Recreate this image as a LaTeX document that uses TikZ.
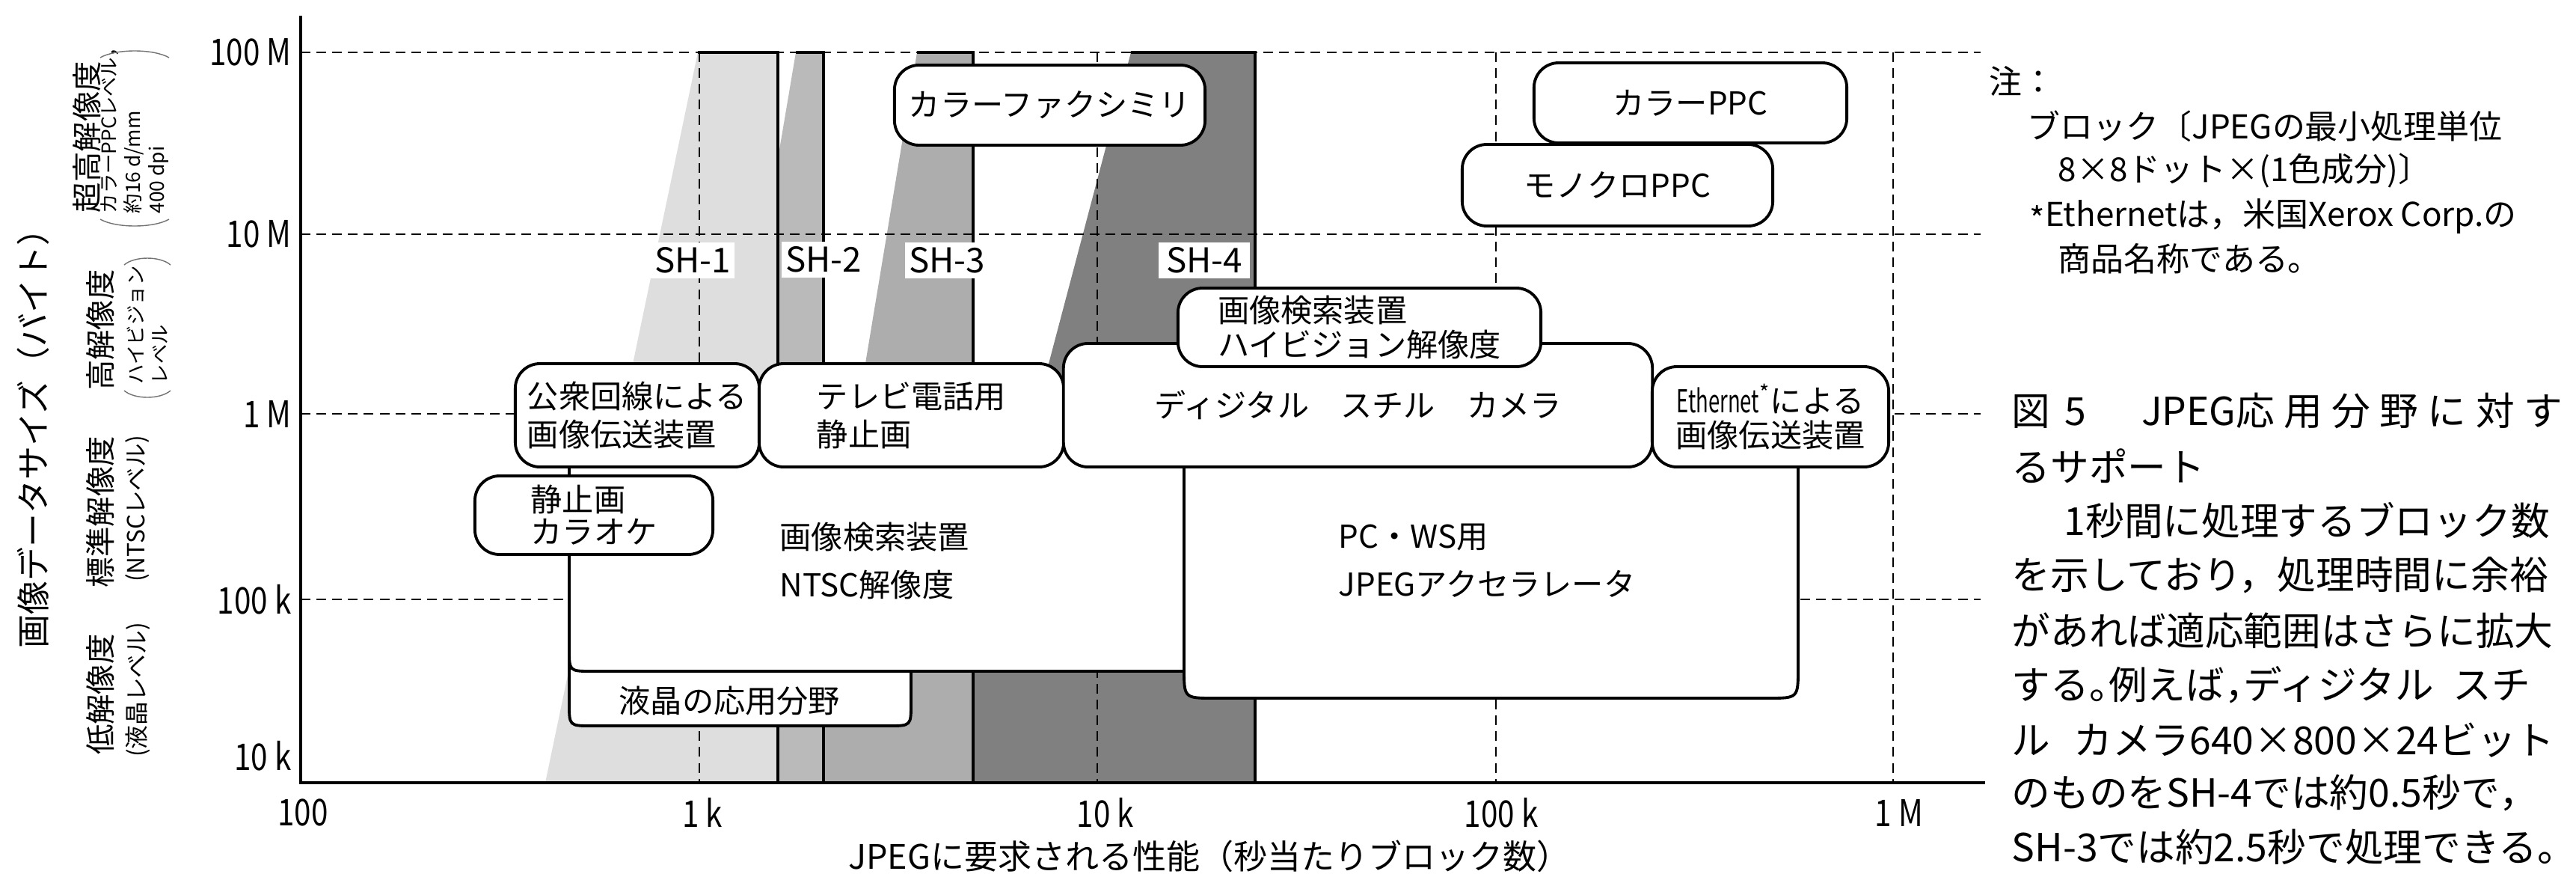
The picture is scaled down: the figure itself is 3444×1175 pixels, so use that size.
\documentclass[tikz,border=0pt]{standalone}
\usepackage{fontspec}
\usepackage{graphicx}
\setmainfont{Noto Sans CJK JP}
\newcommand{\cn}[1]{\scalebox{0.82}[1]{#1}}
\newcommand{\hw}[1]{{\addfontfeature{CharacterWidth=AlternateHalf}#1}}
\begin{document}
\begin{tikzpicture}[x=0.01cm,y=-0.01cm,
  sa/.style={fill=black!13},
  sb/.style={fill=black!27},
  sc/.style={fill=black!32},
  sd/.style={fill=black!50},
  gridl/.style={line width=0.65pt,dash pattern=on 3.7pt off 2.3pt},
  shl/.style={line width=1.1pt},
  axisl/.style={line width=1.3pt},
  bline/.style={line width=1.1pt},
  box/.style={draw,line width=1.1pt,fill=white,rounded corners=0.33cm,inner sep=0pt,align=left,font=\fontsize{12pt}{14pt}\selectfont},
  btxt/.style={inner sep=0pt,align=left,font=\fontsize{12pt}{14pt}\selectfont},
  shlab/.style={fill=white,inner xsep=0.05cm,inner ysep=0.07cm,font=\fontsize{13pt}{15pt}\selectfont},
  ticklab/.style={inner sep=0pt,font=\fontsize{14pt}{16pt}\selectfont},
  ttl/.style={inner sep=0pt,font=\fontsize{12.8pt}{15pt}\selectfont},
  captxt/.style={inner sep=0pt,anchor=west,font=\fontsize{14.7pt}{17pt}\selectfont},
  notetxt/.style={inner sep=0pt,anchor=west,font=\fontsize{12.5pt}{15pt}\selectfont},
  lmain/.style={inner sep=0pt,rotate=90,font=\fontsize{11.5pt}{13pt}\selectfont},
  lsmall/.style={inner sep=0pt,rotate=90,anchor=west,align=left,font=\fontsize{7.5pt}{9pt}\selectfont},
  lmid/.style={inner sep=0pt,rotate=90,font=\fontsize{9pt}{10pt}\selectfont},
  arcl/.style={line width=0.4pt,draw=black!55}
]
\useasboundingbox (0,0) rectangle (3444,1175);

% shaded support regions
\fill[sa] (933,70) -- (1040,70) -- (1040,1046) -- (729,1046) -- cycle;
\fill[sb] (1064,70) -- (1101,70) -- (1101,1046) -- (1040,1046) -- (1040,212) -- cycle;
\fill[sc] (1226,70) -- (1301,70) -- (1301,1046) -- (1101,1046) -- (1101,823) -- cycle;
\fill[sd] (1512,70) -- (1678,70) -- (1678,1046) -- (1301,1046) -- (1301,868) -- cycle;

% grid
\foreach \yy in {70,313,553,801} \draw[gridl] (402,\yy) -- (2648,\yy);
\foreach \xx in {935,1467,2000,2531} \draw[gridl] (\xx,70) -- (\xx,1046);

% SH boundaries
\draw[shl] (933,70) -- (1040,70) -- (1040,1046);
\draw[shl] (1064,70) -- (1101,70) -- (1101,1046);
\draw[shl] (1226,70) -- (1301,70) -- (1301,1046);
\draw[shl] (1512,70) -- (1678,70) -- (1678,1046);

\node[shlab] (sh1) at (926,348) {SH-1};
\node[shlab] (sh2) at (1101,347) {SH-2};
\node[shlab] (sh3) at (1266,348) {SH-3};
\node[shlab, inner xsep=0.1cm] (sh4) at (1610,348) {SH-4};

% lower boxes
\filldraw[bline,fill=white] (761,850) -- (761,940) .. controls (761,970) .. (791,970) -- (1188,970) .. controls (1218,970) .. (1218,940) -- (1218,850);
\node[btxt,anchor=west] (lcdtxt) at (827,937) {液晶の応用分野};

\fill[white] (761,595) -- (761,867) .. controls (761,897) .. (791,897) -- (1583,897) -- (1583,595) -- cycle;
\draw[bline] (761,624) -- (761,867) .. controls (761,897) .. (791,897) -- (1583,897) -- (1583,624);
\node[btxt,anchor=west,font=\fontsize{12pt}{18.2pt}\selectfont] (ntsctxt) at (1042,749) {画像検索装置\\NTSC解像度};

\fill[white] (1583,595) -- (1583,893) .. controls (1583,933) .. (1623,933) -- (2364,933) .. controls (2404,933) .. (2404,893) -- (2404,595) -- cycle;
\draw[bline] (1583,624) -- (1583,893) .. controls (1583,933) .. (1623,933) -- (2364,933) .. controls (2404,933) .. (2404,893) -- (2404,624);
\node[btxt,anchor=west,font=\fontsize{12pt}{18.2pt}\selectfont] (pctxt) at (1789,749) {PC・WS用\\JPEGアクセラレータ};

% upper boxes
\node[box,minimum width=3.26cm,minimum height=1.38cm,font=\fontsize{12pt}{14.5pt}\selectfont] (koshu) at (852,555) {公衆回線による\\画像伝送装置};
\node[box,minimum width=4.07cm,minimum height=1.38cm,font=\fontsize{12pt}{14.5pt}\selectfont] (tv) at (1218.5,555) {テレビ電話用\\静止画};
\node[box,minimum width=7.87cm,minimum height=1.65cm] (cam) at (1815.5,541.5) {ディジタル　スチル　カメラ};
\node[box,minimum width=3.16cm,minimum height=1.34cm,align=center,font=\fontsize{12pt}{13.1pt}\selectfont] (eth) at (2367,557) {{\scalebox{0.65}[1]{Ethernet}}\textsuperscript{*}による\\画像伝送装置};
\node[box,minimum width=4.85cm,minimum height=1.05cm,font=\fontsize{12pt}{13.1pt}\selectfont] (hv) at (1817.5,437.5) {画像検索装置\\ハイビジョン解像度};
\node[box,minimum width=3.18cm,minimum height=1.05cm,font=\fontsize{12pt}{12.2pt}\selectfont] (kara) at (794,688.5) {静止画\\カラオケ};
\node[box,minimum width=4.15cm,minimum height=1.07cm] (fax) at (1403.5,140.5) {カラーファクシミリ};
\node[box,minimum width=4.18cm,minimum height=1.07cm] (cppc) at (2260,137.5) {カラーPPC};
\node[box,minimum width=4.15cm,minimum height=1.09cm] (mppc) at (2162.5,247.5) {モノクロPPC};

% axes
\draw[axisl] (402,21) -- (402,1046) -- (2654,1046);

% tick labels
\node[ticklab,anchor=east] (ty1) at (390,70) {\cn{100 M}};
\node[ticklab,anchor=east] (ty2) at (390,313) {\cn{10 M}};
\node[ticklab,anchor=east] (ty3) at (390,553) {\cn{1 M}};
\node[ticklab,anchor=east] (ty4) at (390,801) {\cn{100 k}};
\node[ticklab,anchor=east] (ty5) at (390,1010) {\cn{10 k}};
\node[ticklab] (tx1) at (405,1086) {\cn{100}};
\node[ticklab] (tx2) at (939,1086) {\cn{1 k}};
\node[ticklab] (tx3) at (1478,1086) {\cn{10 k}};
\node[ticklab] (tx4) at (2007,1086) {\cn{100 k}};
\node[ticklab] (tx5) at (2539,1086) {\cn{1 M}};

% axis titles
\node[ttl] (xtitle) at (1617,1144) {JPEGに要求される性能（秒当たりブロック数）};
\node[ttl,rotate=90] (ytitle) at (44,575) {画像データサイズ（バイト）};

% resolution classes
\node[lmain] (l0) at (116,183) {超高解像度};
\node[lsmall] (l0s) at (180,286) {カラーPPCレベル，\\約16 d/mm\\400 dpi};
\draw[arcl] (134,293) .. controls (155,305) and (205,305) .. (226,293);
\draw[arcl] (134,77) .. controls (155,65) and (205,65) .. (226,77);
\node[lmain] (l1) at (134,441) {高解像度};
\node[lsmall] (l1s) at (197,514) {ハイビジョン\\レベル};
\draw[arcl] (166,522) .. controls (180,534) and (214,534) .. (228,522);
\draw[arcl] (166,354) .. controls (180,342) and (214,342) .. (228,354);
\node[lmain] (l2) at (134,684) {標準解像度};
\node[lmid] (l2s) at (184,680) {(NTSCレベル)};
\node[lmain] (l3) at (134,928) {低解像度};
\node[lmid] (l3s) at (184,922) {(液晶レベル)};

% notes
\node[notetxt] (n0) at (2659,108) {注：};
\node[notetxt] (n1) at (2710,169) {ブロック〔JPEGの最小処理単位};
\node[notetxt] (n2) at (2751,228) {8×8ドット×(1色成分)〕};
\node[notetxt] (n3) at (2713,289) {\raisebox{-0.15em}{*}Ethernetは，米国Xerox Corp.の};
\node[notetxt] (n4) at (2751,346) {商品名称である。};

% caption
\node[captxt] (c0) at (2689,549) {図\kern0.19cm 5\kern0.74cm JPEG\hbox to 4.36cm{応\hfil 用\hfil 分\hfil 野\hfil に\hfil 対\hfil す}};
\node[captxt] (c1) at (2689,623) {るサポート};
\node[captxt] (c2) at (2759,695) {1秒間に処理するブロック数};
\node[captxt] (c3) at (2689,769) {を示しており，処理時間に余裕};
\node[captxt] (c4) at (2689,843) {があれば適応範囲はさらに拡大};
\node[captxt] (c5) at (2689,915) {する\hw{。}例えば\hw{，}ディジタル\hspace{0.5em}スチ};
\node[captxt] (c6) at (2689,989) {ル\hspace{0.6em}カメラ640×800×24ビット};
\node[captxt] (c7) at (2689,1060) {のものをSH-4では約0.5秒で\hw{，}};
\node[captxt] (c8) at (2689,1132) {SH-3では約2.5秒で処理できる\hw{。}};
\end{tikzpicture}
\end{document}
